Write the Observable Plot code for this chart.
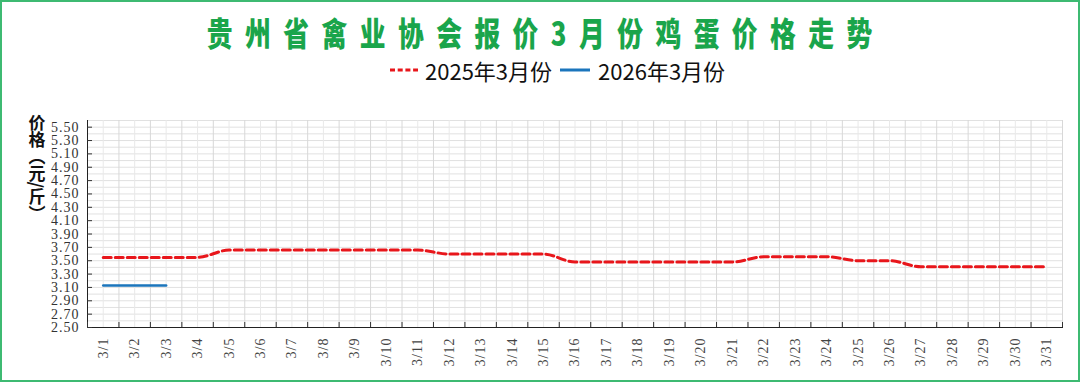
<!DOCTYPE html>
<html>
<head>
<meta charset="utf-8">
<script src="https://cdn.jsdelivr.net/npm/d3@7"></script>
<script src="https://cdn.jsdelivr.net/npm/@observablehq/plot@0.6"></script>
<style>
  html, body { margin: 0; padding: 0; background: #fff; }
  #wrap { position: relative; width: 1080px; height: 392px; overflow: hidden; background: #fff; }
  #border { position: absolute; left: 0; top: 0; width: 1080px; height: 382px; box-sizing: border-box;
            border: 2px solid #3dba72; pointer-events: none; z-index: 3; }
  #title { position: absolute; left: 0; top: 12px; width: 1080px; text-align: center; line-height: 40px; }
  #title span { display: inline-block; transform: scaleX(0.78); transform-origin: center;
                font-family: "Noto Sans CJK SC", sans-serif; font-weight: 900; font-size: 33px;
                letter-spacing: 16px; padding-left: 16px; color: #1aa54b; white-space: nowrap; }
  #legend { position: absolute; left: 390px; top: 56px; height: 28px; display: flex; align-items: center;
            font-family: "Noto Sans CJK SC", sans-serif; font-size: 22px; color: #111; white-space: nowrap; }
  #legend svg { display: block; }
  #chart { position: absolute; left: 0; top: 90px; }
</style>
</head>
<body>
<div id="wrap">
  <div id="title"><span></span></div>
  <div id="legend"></div>
  <div id="chart"></div>
  <div id="border"></div>
</div>
<script>
// ---- data ----
const titleText = "贵州省禽业协会报价3月份鸡蛋价格走势";
const yLabel = "价格（元/斤）";
const seriesNames = ["2025年3月份", "2026年3月份"];
const seriesColors = ["#e8161b", "#1b75bc"];
const dates = ["3/1","3/2","3/3","3/4","3/5","3/6","3/7","3/8","3/9","3/10",
               "3/11","3/12","3/13","3/14","3/15","3/16","3/17","3/18","3/19","3/20",
               "3/21","3/22","3/23","3/24","3/25","3/26","3/27","3/28","3/29","3/30","3/31"];
const price2025 = [3.55,3.55,3.55,3.55,3.66,3.66,3.66,3.66,3.66,3.66,
                   3.66,3.60,3.60,3.60,3.60,3.48,3.48,3.48,3.48,3.48,
                   3.48,3.56,3.56,3.56,3.50,3.50,3.41,3.41,3.41,3.41,3.41];
const price2026 = [3.13,3.13,3.13];
const yTicks = [2.5,2.7,2.9,3.1,3.3,3.5,3.7,3.9,4.1,4.3,4.5,4.7,4.9,5.1,5.3,5.5];
const yDomain = [2.5, 5.6];

// ---- title & legend ----
document.querySelector("#title span").textContent = titleText;
const legend = document.getElementById("legend");
legend.innerHTML = `
  <svg width="28" height="6"><line x1="0" y1="3" x2="28" y2="3" stroke="${seriesColors[0]}" stroke-width="3" stroke-dasharray="5,2.7"/></svg>
  <span style="margin-left:7px">${seriesNames[0]}</span>
  <svg width="30" height="6" style="margin-left:8px"><line x1="0" y1="3" x2="30" y2="3" stroke="${seriesColors[1]}" stroke-width="3"/></svg>
  <span style="margin-left:8px">${seriesNames[1]}</span>`;

// ---- chart ----
const n = dates.length;
const idx = d3.range(1, n + 1);
const bounds = d3.range(0, n + 1).map(i => i + 0.5);
const gridYVals = d3.range(Math.round(yDomain[0] * 10), Math.round(yDomain[1] * 10) + 1).map(v => v / 10);

const chart = Plot.plot({
  width: 1080,
  height: 292,
  marginLeft: 87,
  marginRight: 18,
  marginTop: 30,
  marginBottom: 55,
  style: { fontFamily: "'Liberation Serif', serif", fontSize: "14px", letterSpacing: "1px", color: "#333", background: "transparent" },
  x: { type: "linear", domain: [0.5, n + 0.5], axis: null },
  y: { domain: yDomain, axis: null },
  marks: [
    Plot.gridY(gridYVals, { stroke: "#e1e1e1", strokeOpacity: 1 }),
    Plot.gridX(idx, { stroke: "#e9e9e9", strokeOpacity: 1 }),
    Plot.gridX(bounds, { stroke: "#d8d8d8", strokeOpacity: 1 }),
    Plot.frame({ anchor: "left", stroke: "#222" }),
    Plot.frame({ anchor: "bottom", stroke: "#222" }),
    Plot.axisY({ ticks: yTicks, tickSize: 0, tickPadding: 8, tickFormat: d => d.toFixed(2), label: null, fill: "#333" }),
    Plot.axisY({ ticks: yTicks, tickSize: 5, dx: 5, fill: "none", label: null, stroke: "#333" }),
    Plot.axisX({ ticks: idx, tickFormat: i => dates[i - 1], tickSize: 0, tickPadding: 10, tickRotate: -90,
                 textAnchor: "end", lineAnchor: "middle", label: null, fill: "#444" }),
    Plot.axisX({ ticks: bounds, tickSize: 5, dy: -5, fill: "none", label: null, stroke: "#333" }),
    Plot.line(price2025, { x: (d, i) => i + 1, y: d => d, curve: "monotone-x", stroke: seriesColors[0],
                           strokeWidth: 3, strokeDasharray: "8,4" }),
    Plot.line(price2026, { x: (d, i) => i + 1, y: d => d, stroke: seriesColors[1], strokeWidth: 2.5 }),
    Plot.text([yLabel], { frameAnchor: "top-left", dx: -50.5, dy: -19, text: d => d,
                          fontFamily: "Noto Sans CJK SC", fontWeight: "bold", fontSize: 17, fill: "#111" })
  ]
});
document.getElementById("chart").appendChild(chart);

// vertical writing for the y-axis title
chart.querySelectorAll('g[aria-label="text"] text').forEach(t => {
  t.removeAttribute("dy");
  t.setAttribute("text-anchor", "start");
  t.style.writingMode = "vertical-rl";
  t.style.letterSpacing = "0px";
});
</script>
</body>
</html>
